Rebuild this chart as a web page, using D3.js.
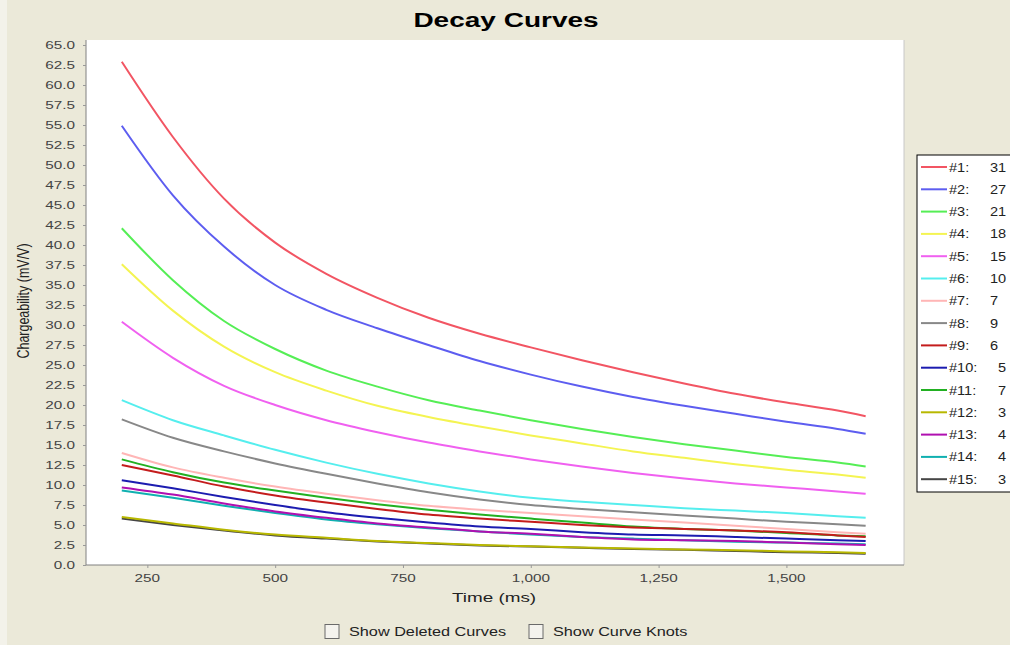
<!DOCTYPE html>
<html>
<head>
<meta charset="utf-8">
<script src="https://cdn.jsdelivr.net/npm/d3@7"></script>
<style>
  html, body { margin: 0; padding: 0; background: #ebe9d9; }
  svg { display: block; }
  text { font-family: "Liberation Sans", Arial, sans-serif; }
</style>
</head>
<body>
<svg id="chart" width="1010" height="645"></svg>
<script>
// Gate times (ms) at which every decay curve is sampled
const times = [200, 300, 400, 500, 600, 700, 800, 900, 1000, 1100, 1200, 1300, 1400, 1500, 1600, 1655];

// Chargeability (mV/V) of each curve at the gate times
const c1  = [62.9, 53.5, 45.8, 40.3, 36.4, 33.4, 30.9, 28.9, 27.2, 25.6, 24.1, 22.7, 21.4, 20.3, 19.3, 18.6];
const c2  = [54.9, 46.2, 39.8, 35.0, 31.9, 29.6, 27.5, 25.5, 23.8, 22.3, 21.0, 19.9, 18.9, 17.9, 17.0, 16.4];
const c3  = [42.1, 35.6, 30.5, 27.0, 24.3, 22.3, 20.6, 19.3, 18.1, 17.0, 16.0, 15.1, 14.3, 13.5, 12.8, 12.3];
const c4  = [37.6, 31.8, 27.3, 24.1, 21.8, 19.9, 18.5, 17.3, 16.2, 15.2, 14.2, 13.4, 12.6, 11.9, 11.3, 10.9];
const c5  = [30.4, 25.9, 22.4, 20.0, 18.1, 16.6, 15.3, 14.2, 13.2, 12.3, 11.5, 10.8, 10.2, 9.7, 9.2, 8.9];
const c6  = [20.6, 18.1, 16.2, 14.4, 12.8, 11.4, 10.2, 9.2, 8.4, 7.9, 7.5, 7.1, 6.8, 6.5, 6.1, 5.9];
const c7  = [14.0, 12.2, 10.9, 9.8, 8.9, 8.1, 7.4, 6.9, 6.5, 6.1, 5.7, 5.3, 4.9, 4.5, 4.1, 3.9];
const c8  = [18.2, 15.9, 14.2, 12.7, 11.4, 10.2, 9.1, 8.2, 7.5, 7.0, 6.6, 6.2, 5.8, 5.4, 5.1, 4.9];
const c9  = [12.5, 11.2, 9.8, 8.7, 7.8, 7.0, 6.3, 5.8, 5.4, 5.0, 4.7, 4.5, 4.3, 4.1, 3.7, 3.5];
const c10 = [10.6, 9.6, 8.5, 7.5, 6.6, 5.9, 5.3, 4.8, 4.5, 4.1, 3.8, 3.7, 3.5, 3.3, 3.1, 3.0];
const c11 = [13.2, 11.6, 10.3, 9.3, 8.4, 7.6, 6.9, 6.3, 5.8, 5.3, 4.8, 4.5, 4.3, 4.0, 3.7, 3.6];
const c12 = [6.0, 5.2, 4.4, 3.8, 3.4, 3.0, 2.75, 2.5, 2.35, 2.2, 2.05, 1.95, 1.85, 1.7, 1.6, 1.5];
const c13 = [9.7, 8.8, 7.7, 6.7, 5.9, 5.2, 4.7, 4.2, 3.9, 3.5, 3.2, 3.1, 3.0, 2.8, 2.6, 2.5];
const c14 = [9.3, 8.4, 7.4, 6.5, 5.7, 5.1, 4.6, 4.2, 3.8, 3.5, 3.3, 3.1, 2.9, 2.8, 2.7, 2.6];
const c15 = [5.8, 5.0, 4.3, 3.7, 3.3, 2.95, 2.7, 2.45, 2.3, 2.15, 2.0, 1.9, 1.75, 1.6, 1.5, 1.4];
const curves = [c1, c2, c3, c4, c5, c6, c7, c8, c9, c10, c11, c12, c13, c14, c15];

// Legend entries: curve id and the count shown beside it
const curveIds = ["#1:", "#2:", "#3:", "#4:", "#5:", "#6:", "#7:", "#8:", "#9:", "#10:", "#11:", "#12:", "#13:", "#14:", "#15:"];
const curveCounts = ["31", "27", "21", "18", "15", "10", "7", "9", "6", "5", "7", "3", "4", "4", "3"];

// Axis tick values
const xTicks = [250, 500, 750, 1000, 1250, 1500];
const yTicks = d3.range(0, 65.01, 2.5);

const palette = ["#f25563", "#5d5df0", "#55ee55", "#f4f452", "#f060f0", "#55eeee", "#ffb6b6",
                 "#888888", "#c41c1c", "#1c1cb0", "#22b022", "#b8b800", "#b010b0", "#10b0b0", "#454545"];

const svg = d3.select("#chart");

// Plot frame
const plot = { left: 86, right: 904, top: 40, bottom: 565 };
const x = d3.scaleLinear().domain([130, 1730]).range([plot.left, plot.right]);
const y = d3.scaleLinear().domain([0, 65]).range([plot.bottom, 45]);

// Window background with a lighter rim
svg.append("rect").attr("x", 0).attr("y", 0).attr("width", 1010).attr("height", 645).attr("fill", "#ebe9d9");
svg.append("rect").attr("x", 0).attr("y", 0).attr("width", 7).attr("height", 645).attr("fill", "#f3f2ea");

svg.append("rect")
  .attr("x", plot.left).attr("y", plot.top)
  .attr("width", plot.right - plot.left).attr("height", plot.bottom - plot.top)
  .attr("fill", "#ffffff");
svg.append("line")
  .attr("x1", plot.right).attr("x2", plot.right).attr("y1", plot.top).attr("y2", plot.bottom)
  .attr("stroke", "#c8c8c8").attr("stroke-width", 1);

// Horizontally widened text helper
function wideText(parent, txt, px, py, opts) {
  const t = parent.append("text")
    .attr("transform", `translate(${px},${py}) scale(${opts.sx || 1},1)`)
    .attr("font-size", opts.size)
    .attr("fill", opts.fill || "#000")
    .attr("text-anchor", opts.anchor || "start")
    .text(txt);
  if (opts.weight) t.attr("font-weight", opts.weight);
  return t;
}

// Title
wideText(svg, "Decay Curves", 506, 27, { size: 20, weight: "bold", anchor: "middle", sx: 1.4 });

// Y axis
const yAxis = svg.append("g").attr("transform", `translate(${plot.left},0)`)
  .call(d3.axisLeft(y).tickValues(yTicks).tickSize(3).tickFormat(() => ""));
yAxis.select(".domain").attr("stroke", "#808080").attr("d", `M0,${plot.top}V${plot.bottom}`);
yAxis.selectAll(".tick line").attr("stroke", "#999");
yTicks.forEach(v => {
  wideText(svg, d3.format(".1f")(v), 75, y(v) + 4, { size: 11.5, anchor: "end", sx: 1.33, fill: "#444" });
});

// X axis
const xAxis = svg.append("g").attr("transform", `translate(0,${plot.bottom})`)
  .call(d3.axisBottom(x).tickValues(xTicks).tickSize(3).tickFormat(() => ""));
xAxis.select(".domain").attr("stroke", "#808080").attr("d", `M${plot.left},0H${plot.right}`);
xAxis.selectAll(".tick line").attr("stroke", "#999");
xTicks.forEach(v => {
  wideText(svg, d3.format(",")(v), x(v), 582, { size: 11.5, anchor: "middle", sx: 1.33, fill: "#444" });
});

// Axis titles
wideText(svg, "Time (ms)", 494, 602, { size: 13.5, anchor: "middle", sx: 1.4, fill: "#222" });
svg.append("text")
  .attr("transform", "translate(29,301) rotate(-90) scale(1,1.35)")
  .attr("font-size", 12.5).attr("fill", "#222").attr("text-anchor", "middle")
  .text("Chargeability (mV/V)");

// Curves
const line = d3.line()
  .x((d, i) => x(times[i]))
  .y(d => y(d))
  .curve(d3.curveMonotoneX);

const curveLayer = svg.append("g");
curves.slice().reverse().forEach((vals, ri) => {
  const i = curves.length - 1 - ri;
  curveLayer.append("path")
    .attr("d", line(vals))
    .attr("fill", "none")
    .attr("stroke", palette[i])
    .attr("stroke-width", 2)
    .attr("stroke-linejoin", "round");
});

// Legend
const legend = svg.append("g");
legend.append("rect")
  .attr("x", 917).attr("y", 155).attr("width", 120).attr("height", 337)
  .attr("fill", "#ffffff").attr("stroke", "#000").attr("stroke-width", 1);
curveIds.forEach((id, i) => {
  const ly = 167 + i * 22.3;
  legend.append("line")
    .attr("x1", 921).attr("x2", 947).attr("y1", ly).attr("y2", ly)
    .attr("stroke", palette[i]).attr("stroke-width", 2);
  wideText(legend, id, 949, ly + 4.5, { size: 13, sx: 1.12, fill: "#222" });
  wideText(legend, curveCounts[i], i < 9 ? 990 : 998, ly + 4.5, { size: 13, sx: 1.12, fill: "#222" });
});

// Option check boxes under the chart
const opts = [
  { label: "Show Deleted Curves", bx: 325 },
  { label: "Show Curve Knots", bx: 529 }
];
opts.forEach(o => {
  svg.append("rect")
    .attr("x", o.bx).attr("y", 624.5).attr("width", 14).attr("height", 14)
    .attr("fill", "#f4f3ee").attr("stroke", "#6a6a6a").attr("stroke-width", 1);
  wideText(svg, o.label, o.bx + 24, 636, { size: 13, sx: 1.25, fill: "#222" });
});
</script>
</body>
</html>
